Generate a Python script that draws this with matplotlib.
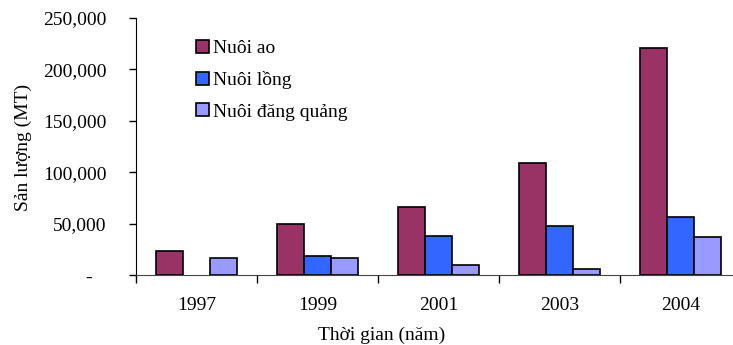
import numpy as np
import matplotlib.pyplot as plt
from matplotlib.patches import Patch
from matplotlib.ticker import FuncFormatter

# Data
years = ["1997", "1999", "2001", "2003", "2004"]
nuoi_ao = [23000, 50000, 66000, 109000, 221000]
nuoi_long = [0, 18000, 37500, 47500, 56000]
nuoi_dang_quang = [17000, 17000, 9500, 5500, 37300]

series = ["Nuôi ao", "Nuôi lồng", "Nuôi đăng quảng"]
colors = ["#993366", "#3366FF", "#9999FF"]

plt.rcParams['font.family'] = ['Liberation Serif', 'DejaVu Serif']

fig = plt.figure(figsize=(7.33, 3.45), dpi=100)
W, H = 733, 345
# axes box in pixels: left 136, bottom 275, top 18, width of 5 categories = 605 px
ax = fig.add_axes([136 / W, (H - 275) / H, 605 / W, 257 / H])

x = np.arange(len(years))
bw = 1 / 4.5
for i, (vals, c) in enumerate(zip([nuoi_ao, nuoi_long, nuoi_dang_quang], colors)):
    v = np.array(vals, dtype=float)
    mask = v > 0
    ax.bar(x[mask] + (i - 1) * bw, v[mask], width=bw, color=c,
           edgecolor="black", linewidth=1.2, zorder=3)

ax.set_xlim(-0.5, 4.5)
ax.set_ylim(0, 250000)
ax.set_yticks(np.arange(0, 250001, 50000))
ax.yaxis.set_major_formatter(FuncFormatter(
    lambda v, p: "-   " if v == 0 else f"{int(v):,}"))

ax.set_xticks(x)
ax.set_xticklabels(years)
ax.set_xticks(np.arange(-0.5, 4.6, 1), minor=True)
ax.tick_params(axis='x', which='major', length=0, pad=16, labelsize=14)
ax.tick_params(axis='x', which='minor', length=6, width=1, direction='out')
ax.tick_params(axis='y', length=5, width=1, direction='out', pad=16, labelsize=14)

for s in ['top', 'right']:
    ax.spines[s].set_visible(False)
ax.spines['left'].set_color('black')
ax.spines['bottom'].set_color('#444444')

fig.text(382 / W, 1 - 335 / H, "Thời gian (năm)", ha='center', va='center', fontsize=14)
fig.text(23 / W, 1 - 147 / H, "Sản lượng (MT)", ha='center', va='center',
         rotation=90, fontsize=14)

handles = [Patch(facecolor=c, edgecolor='black', linewidth=1.2) for c in colors]
fig.legend(handles, series, loc='upper left', bbox_to_anchor=(196 / W, 1 - 40 / H),
           frameon=False, fontsize=14, handlelength=0.65, handleheight=0.65,
           handletextpad=0.2, labelspacing=0.72, borderpad=0, borderaxespad=0)

fig.savefig("out.png", dpi=100)
